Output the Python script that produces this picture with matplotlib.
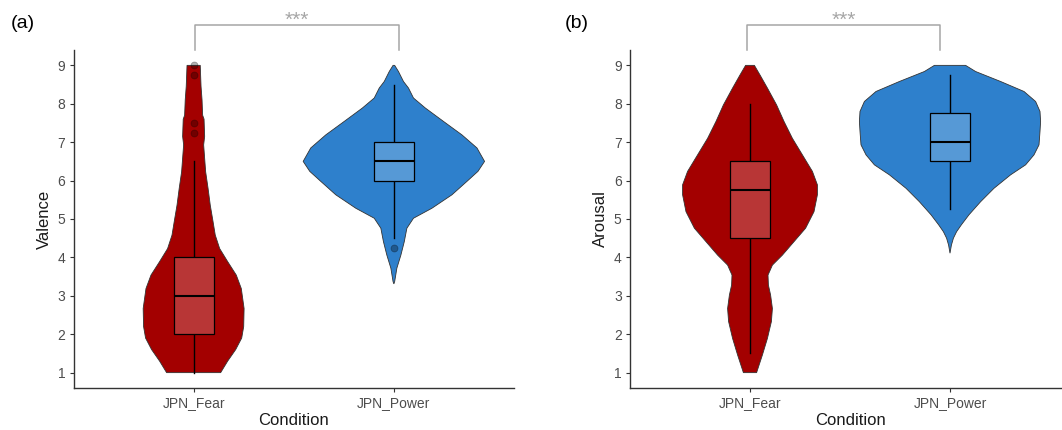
import numpy as np
import matplotlib
matplotlib.use("Agg")
import matplotlib.pyplot as plt

plt.rcParams['font.family'] = ['Liberation Sans', 'DejaVu Sans']

categories = ["JPN_Fear", "JPN_Power"]

# Violin outlines: rating level and half-width (in category units)
valence_fear_y = [1.0, 1.3, 1.6, 1.9, 2.2, 2.67, 3.19, 3.54, 3.89, 4.23, 4.58, 4.93,
                  5.36, 5.80, 6.23, 6.58, 6.93, 7.15, 7.6, 7.7, 8.1, 8.45, 9.0]
valence_fear_hw = [0.135, 0.17, 0.21, 0.24, 0.25, 0.252, 0.238, 0.213, 0.17, 0.13,
                   0.108, 0.097, 0.083, 0.072, 0.06, 0.055, 0.05, 0.055, 0.052,
                   0.045, 0.042, 0.037, 0.033]

valence_power_y = [3.31, 3.37, 3.72, 4.06, 4.41, 4.76, 5.02, 5.28, 5.63, 5.98, 6.24,
                   6.50, 6.85, 7.19, 7.54, 7.89, 8.15, 8.41, 8.58, 8.84, 9.0]
valence_power_hw = [0.0, 0.004, 0.015, 0.035, 0.052, 0.065, 0.098, 0.19, 0.29, 0.365,
                    0.42, 0.453, 0.415, 0.34, 0.248, 0.157, 0.098, 0.073, 0.048,
                    0.023, 0.004]

arousal_fear_y = [1.0, 1.46, 1.89, 2.33, 2.67, 3.02, 3.28, 3.54, 3.80, 4.06, 4.41,
                  4.76, 5.19, 5.63, 5.89, 6.24, 6.67, 7.10, 7.54, 7.97, 8.41, 8.75, 9.0]
arousal_fear_hw = [0.033, 0.062, 0.087, 0.107, 0.112, 0.103, 0.092, 0.09, 0.112,
                   0.162, 0.22, 0.278, 0.32, 0.337, 0.337, 0.312, 0.262, 0.212,
                   0.17, 0.133, 0.087, 0.05, 0.022]

arousal_power_y = [4.11, 4.32, 4.50, 4.67, 4.85, 5.11, 5.45, 5.80, 6.15, 6.41, 6.67,
                   6.93, 7.28, 7.54, 7.80, 8.06, 8.32, 8.58, 8.84, 9.0]
arousal_power_hw = [0.0, 0.007, 0.017, 0.033, 0.057, 0.095, 0.153, 0.22, 0.303,
                    0.378, 0.42, 0.445, 0.45, 0.453, 0.45, 0.428, 0.37, 0.253,
                    0.128, 0.078]

# Box-plot summaries per condition
valence_q1 = [2.0, 6.0]
valence_med = [3.0, 6.5]
valence_q3 = [4.0, 7.0]
valence_lo = [1.0, 4.5]
valence_hi = [6.5, 8.5]
valence_outliers = [[9.0, 8.75, 7.5, 7.25], [4.25]]

arousal_q1 = [4.5, 6.5]
arousal_med = [5.75, 7.0]
arousal_q3 = [6.5, 7.75]
arousal_lo = [1.5, 5.25]
arousal_hi = [8.0, 8.75]
arousal_outliers = [[], []]

violin_colors = ["#A30000", "#2E80CC"]
box_colors = ["#B83636", "#5699D6"]

W, H = 1062, 430
fig = plt.figure(figsize=(W / 100, H / 100), dpi=100)


def px_axes(left, right, bottom, top):
    return fig.add_axes([left / W, 1 - bottom / H, (right - left) / W, (bottom - top) / H])


def draw_panel(ax, profiles, q1, med, q3, lo, hi, outliers, ylabel):
    for i, (ys, hws) in enumerate(profiles):
        c = i + 1
        ys = np.asarray(ys)
        hws = np.asarray(hws)
        xs = np.concatenate([c - hws, (c + hws)[::-1]])
        yy = np.concatenate([ys, ys[::-1]])
        ax.fill(xs, yy, facecolor=violin_colors[i], edgecolor="#333333",
                linewidth=0.6, zorder=1)
        # whiskers
        ax.plot([c, c], [lo[i], q1[i]], color="black", lw=1.0, zorder=2)
        ax.plot([c, c], [q3[i], hi[i]], color="black", lw=1.0, zorder=2)
        # box
        bw = 0.1
        ax.add_patch(plt.Rectangle((c - bw, q1[i]), 2 * bw, q3[i] - q1[i],
                                   facecolor=box_colors[i], edgecolor="black",
                                   lw=0.9, zorder=3))
        ax.plot([c - bw, c + bw], [med[i], med[i]], color="black", lw=1.5,
                zorder=4, solid_capstyle="butt")
        if outliers[i]:
            ax.plot([c] * len(outliers[i]), outliers[i], "o", ms=5.0,
                    color="black", alpha=0.3, mec="black", mew=0.6, zorder=5)
    ax.set_xlim(0.4, 2.6)
    ax.set_ylim(0.6, 9.4)
    ax.set_xticks([1, 2])
    ax.set_xticklabels(categories)
    ax.set_yticks(range(1, 10))
    for s in ["top", "right"]:
        ax.spines[s].set_visible(False)
    for s in ["left", "bottom"]:
        ax.spines[s].set_color("#333333")
        ax.spines[s].set_linewidth(1.0)
    ax.tick_params(axis="both", colors="#333333", labelcolor="#4D4D4D",
                   labelsize=10, length=3, width=0.8, pad=3)
    ax.set_xlabel("Condition", fontsize=12, color="#1A1A1A", labelpad=2)
    ax.set_ylabel(ylabel, fontsize=12, color="#1A1A1A", labelpad=4)


def bracket(ax, x0, x1, text):
    y_low, y_top = 9.39, 10.05
    ax.plot([x0, x0, x1, x1], [y_low, y_top, y_top, y_low], color="#A6A6A6",
            lw=1.1, clip_on=False, zorder=6)
    ax.text((x0 + x1) / 2, 10.04, text, ha="center", va="baseline",
            color="#A6A6A6", fontsize=15, clip_on=False)


ax1 = px_axes(73.5, 514, 388, 50)
draw_panel(ax1, [(valence_fear_y, valence_fear_hw), (valence_power_y, valence_power_hw)],
           valence_q1, valence_med, valence_q3, valence_lo, valence_hi,
           valence_outliers, "Valence")
bracket(ax1, 1.007, 2.025, "***")

ax2 = px_axes(630, 1070, 388, 50)
draw_panel(ax2, [(arousal_fear_y, arousal_fear_hw), (arousal_power_y, arousal_power_hw)],
           arousal_q1, arousal_med, arousal_q3, arousal_lo, arousal_hi,
           arousal_outliers, "Arousal")
bracket(ax2, 0.985, 1.95, "***")

fig.text(11 / W, 1 - 23 / H, "(a)", fontsize=14, va="center", ha="left")
fig.text(565 / W, 1 - 23 / H, "(b)", fontsize=14, va="center", ha="left")

fig.savefig("out.png", dpi=100, facecolor="white")
